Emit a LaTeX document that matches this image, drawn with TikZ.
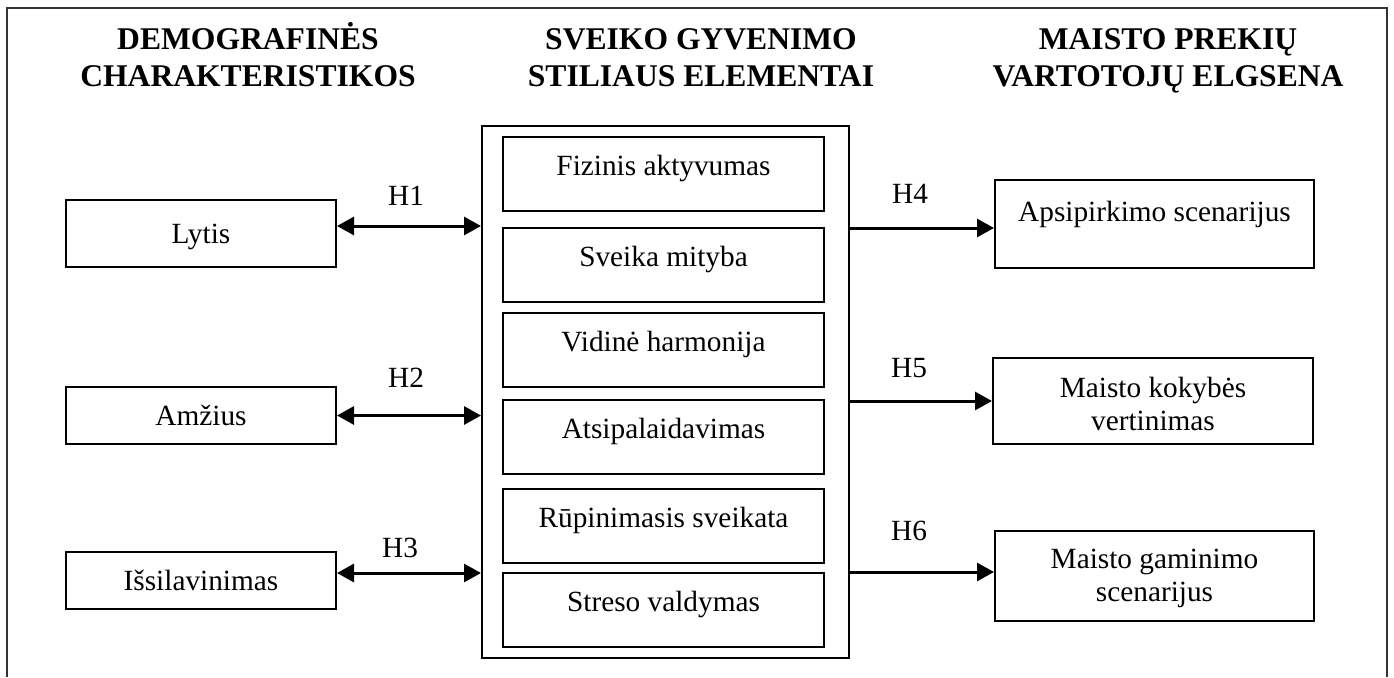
\documentclass[tikz,border=0pt]{standalone}
\usepackage{fontspec}
\setmainfont{Liberation Serif}
\usetikzlibrary{arrows.meta}
\newcommand\bodyfnt{\fontsize{29.3}{33}\selectfont}
\newcommand\headfnt{\fontsize{31.6}{37}\selectfont\bfseries}
\begin{document}
\begin{tikzpicture}[x=1pt,y=-1pt,
  frame/.style={line width=1.4pt, draw=black!80},
  box/.style={draw, line width=2pt, inner sep=0pt, font=\bodyfnt},
  mid/.style={text height=19.4pt, text depth=0pt},
  hd/.style={font=\headfnt, inner sep=0pt, anchor=base},
  hyp/.style={font=\bodyfnt, inner sep=0pt, anchor=base},
  arr/.style={line width=3pt, -{Triangle[length=17pt,width=18pt]}},
  darr/.style={line width=3pt, {Triangle[length=17pt,width=18pt]}-{Triangle[length=17pt,width=18pt]}},
]
\useasboundingbox (0,0) rectangle (1394,677);
\draw[frame] (7,677) -- (7,8) -- (1387,8) -- (1387,677);

% headers
\node[hd] (hL) at (248,49) {\begin{tabular}[t]{@{}c@{}}DEMOGRAFINĖS\\CHARAKTERISTIKOS\end{tabular}};
\node[hd] (hC) at (701,49) {\begin{tabular}[t]{@{}c@{}}SVEIKO GYVENIMO\\STILIAUS ELEMENTAI\end{tabular}};
\node[hd] (hR) at (1168,49) {\begin{tabular}[t]{@{}c@{}}MAISTO PREKIŲ\\VARTOTOJŲ ELGSENA\end{tabular}};

% left boxes
\node[box, mid, minimum width=270pt, minimum height=67pt] (lytis) at (201,233.5) {Lytis};
\node[box, mid, minimum width=270pt, minimum height=57pt] (amz) at (201,415.5) {Amžius};
\node[box, mid, minimum width=270pt, minimum height=57pt] (iss) at (201,580.5) {Išsilavinimas};

% central block
\node[box, minimum width=367pt, minimum height=532pt] (big) at (665.5,392) {};
\begin{scope}[every node/.append style={box, minimum width=321pt, text height=38pt, text depth=36pt}]
\node (e1) at (663.5,174) {Fizinis aktyvumas};
\node (e2) at (663.5,265) {Sveika mityba};
\node (e3) at (663.5,350) {Vidinė harmonija};
\node (e4) at (663.5,437) {Atsipalaidavimas};
\node (e5) at (663.5,526) {Rūpinimasis sveikata};
\node (e6) at (663.5,610) {Streso valdymas};
\end{scope}

% right boxes
\node[box, minimum width=319pt, text height=41pt, text depth=47pt] (aps) at (1154.5,224) {Apsipirkimo scenarijus};
\node[box, minimum width=320pt, text height=39pt, text depth=47pt] (kok) at (1153,401)
  {\begin{tabular}[t]{@{}c@{}}Maisto kokybės\\vertinimas\end{tabular}};
\node[box, minimum width=319pt, text height=37pt, text depth=53pt] (gam) at (1154.5,576)
  {\begin{tabular}[t]{@{}c@{}}Maisto gaminimo\\scenarijus\end{tabular}};

% connectors
\coordinate (a1) at ([yshift=7.5pt]lytis.east);
\coordinate (a3) at ([yshift=7.5pt]iss.east);
\coordinate (a4) at ([yshift=-4pt]aps.west);
\coordinate (a6) at ([yshift=4pt]gam.west);
\draw[darr] (a1) -- (a1 -| big.west);
\draw[darr] (amz.east) -- (amz.east -| big.west);
\draw[darr] (a3) -- (a3 -| big.west);
\draw[arr] (a4 -| big.east) -- (a4);
\draw[arr] (kok.west -| big.east) -- (kok.west);
\draw[arr] (a6 -| big.east) -- (a6);

% hypothesis labels
\node[hyp] (h1) at (406,205) {H1};
\node[hyp] (h2) at (406,387) {H2};
\node[hyp] (h3) at (400,557) {H3};
\node[hyp] (h4) at (910,203) {H4};
\node[hyp] (h5) at (909,377) {H5};
\node[hyp] (h6) at (909,540) {H6};
\end{tikzpicture}
\end{document}
